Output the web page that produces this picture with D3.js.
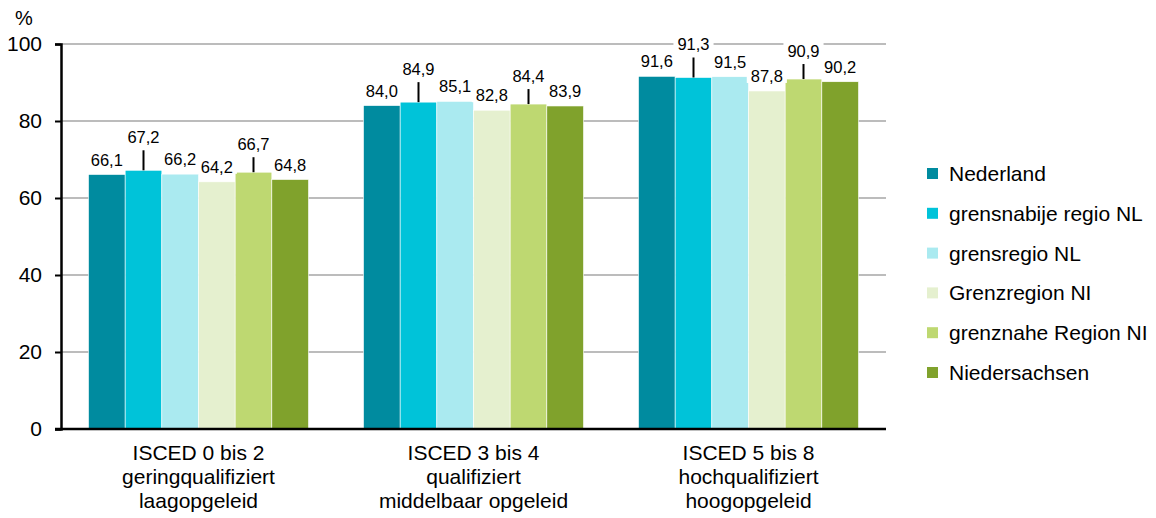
<!DOCTYPE html>
<html>
<head>
<meta charset="utf-8">
<script src="https://cdn.jsdelivr.net/npm/d3@7"></script>
<style>
  html, body { margin: 0; padding: 0; background: #fff; }
  svg { display: block; font-family: Arial, "Liberation Sans", sans-serif; }
</style>
</head>
<body>
<svg id="chart" width="1156" height="518"></svg>
<script>
// ---- data ----
const categories = ["ISCED 0 bis 2", "ISCED 3 bis 4", "ISCED 5 bis 8"];
const categoryLines = [
  ["ISCED 0 bis 2", "geringqualifiziert", "laagopgeleid"],
  ["ISCED 3 bis 4", "qualifiziert", "middelbaar opgeleid"],
  ["ISCED 5 bis 8", "hochqualifiziert", "hoogopgeleid"]
];
const seriesNames = ["Nederland", "grensnabije regio NL", "grensregio NL", "Grenzregion NI", "grenznahe Region NI", "Niedersachsen"];
const nederland        = [66.1, 84.0, 91.6];
const grensnabijeNL    = [67.2, 84.9, 91.3];
const grensregioNL     = [66.2, 85.1, 91.5];
const grenzregionNI    = [64.2, 82.8, 87.8];
const grenznaheNI      = [66.7, 84.4, 90.9];
const niedersachsen    = [64.8, 83.9, 90.2];
const seriesValues = [nederland, grensnabijeNL, grensregioNL, grenzregionNI, grenznaheNI, niedersachsen];
const yTicks = [0, 20, 40, 60, 80, 100];

// ---- styling ----
const colors = ["#008b9f", "#00c3d9", "#aaeaf0", "#e5f0cf", "#bed871", "#80a22c"];
const leaderOffset = {1: 27, 4: 22};   // series whose labels are lifted with a leader line

const svg = d3.select("#chart");
const margin = {left: 61, right: 270, top: 44, bottom: 89};
const W = 1156, H = 518;

const x0 = d3.scaleBand().domain(categories).range([margin.left, W - margin.right])
  .paddingInner(0.2).paddingOuter(0.1);
const x1 = d3.scaleBand().domain(d3.range(seriesNames.length)).range([0, x0.bandwidth()]).padding(0);
const y = d3.scaleLinear().domain([0, 100]).range([H - margin.bottom, margin.top]);

// gridlines
svg.append("g").selectAll("line").data(yTicks.filter(d => d > 0)).join("line")
  .attr("x1", margin.left).attr("x2", W - margin.right)
  .attr("y1", d => y(d)).attr("y2", d => y(d))
  .attr("stroke", "#a6a6a6").attr("stroke-width", 1.6);

// y axis
const yAxis = svg.append("g").attr("transform", `translate(${margin.left},0)`)
  .call(d3.axisLeft(y).tickValues(yTicks).tickSize(6).tickPadding(13).tickFormat(d3.format("d")));
yAxis.select(".domain").attr("stroke", "#000").attr("stroke-width", 2.5);
yAxis.selectAll(".tick line").attr("stroke", "#000").attr("stroke-width", 2);
yAxis.selectAll(".tick text").attr("font-size", 21).attr("fill", "#000")
  .attr("font-family", "Arial, 'Liberation Sans', sans-serif");

svg.append("text").attr("x", 24).attr("y", 25).attr("text-anchor", "middle")
  .attr("font-size", 20).attr("fill", "#000").text("%");

// bars
const cells = [];
seriesValues.forEach((vals, s) => vals.forEach((v, c) => cells.push({s, c, v})));

svg.append("g").selectAll("rect").data(cells).join("rect")
  .attr("x", d => x0(categories[d.c]) + x1(d.s))
  .attr("width", x1.bandwidth())
  .attr("y", d => y(d.v))
  .attr("height", d => y(0) - y(d.v))
  .attr("fill", d => colors[d.s])
  .attr("stroke", "#ffffff").attr("stroke-width", 0.6);

// x axis baseline
svg.append("line").attr("x1", margin.left - 6).attr("x2", W - margin.right)
  .attr("y1", y(0)).attr("y2", y(0)).attr("stroke", "#000").attr("stroke-width", 2.5);

// data labels
const fmt = v => d3.format(".1f")(v).replace(".", ",");
const labelG = svg.append("g");
cells.forEach(d => {
  const cx = x0(categories[d.c]) + x1(d.s) + x1.bandwidth() / 2;
  const top = y(d.v);
  const off = leaderOffset[d.s] !== undefined ? leaderOffset[d.s] : 9;
  const by = top - off;
  const t = labelG.append("text").attr("x", cx).attr("y", by).attr("text-anchor", "middle")
    .attr("font-size", 16.5).attr("fill", "#000").text(fmt(d.v));
  const bb = t.node().getBBox();
  labelG.insert("rect", "text").attr("x", bb.x - 4).attr("y", bb.y).attr("width", bb.width + 8)
    .attr("height", bb.height - 2).attr("fill", "#fff");
  if (leaderOffset[d.s] !== undefined) {
    labelG.append("line").attr("x1", cx).attr("x2", cx).attr("y1", by + 7).attr("y2", top)
      .attr("stroke", "#000").attr("stroke-width", 2);
  }
});
labelG.raise();

// category labels
categoryLines.forEach((lines, c) => {
  const cx = x0(categories[c]) + x0.bandwidth() / 2;
  lines.forEach((ln, i) => {
    svg.append("text").attr("x", cx).attr("y", 460 + i * 24).attr("text-anchor", "middle")
      .attr("font-size", 21).attr("fill", "#000").text(ln);
  });
});

// legend
const lg = svg.append("g");
seriesNames.forEach((name, i) => {
  const cy = 173.5 + i * 39.8;
  lg.append("rect").attr("x", 927).attr("y", cy - 5.5).attr("width", 11).attr("height", 11).attr("fill", colors[i]);
  lg.append("text").attr("x", 949).attr("y", cy + 7.5).attr("font-size", 21).attr("fill", "#000").text(name);
});
</script>
</body>
</html>
